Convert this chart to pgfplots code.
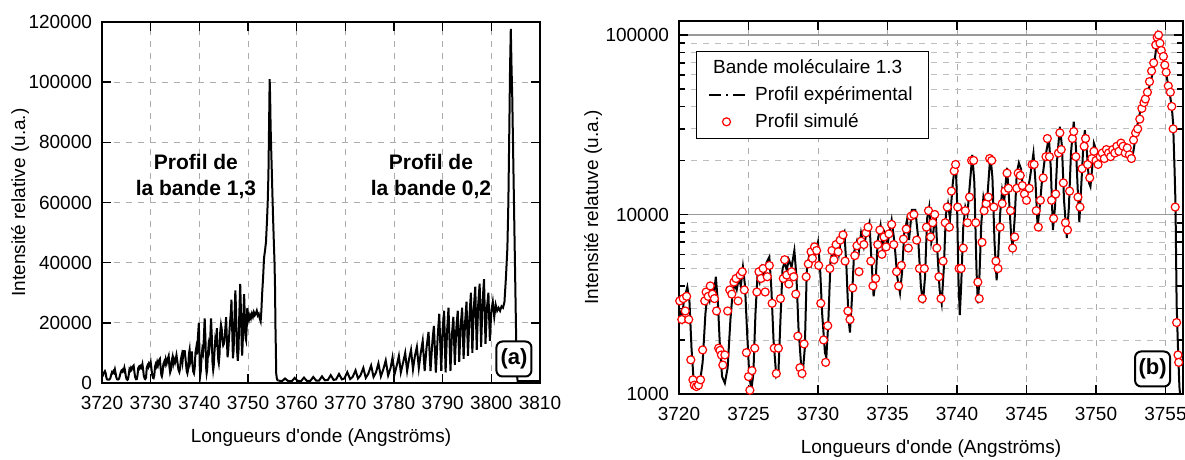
\documentclass[border=0pt]{standalone}
\usepackage{fontspec}
\setmainfont{Liberation Sans}
\usepackage{pgfplots}
\usepackage{pgfplotstable}
\pgfplotsset{compat=1.18}

% bande 1,3 (profil experimental)
\pgfplotstableread{
l I
3720.0 3000
3720.2 2600
3720.35 3300
3720.6 3950
3720.75 3300
3720.9 1800
3721.05 1200
3721.3 1100
3721.5 1150
3721.7 1500
3721.9 2800
3722.05 3600
3722.2 3300
3722.35 3900
3722.5 3500
3722.65 4500
3722.8 3200
3722.95 1800
3723.1 1250
3723.3 1150
3723.5 1400
3723.7 2600
3723.85 3600
3724.0 4100
3724.15 3800
3724.3 4400
3724.45 4000
3724.6 5100
3724.75 4000
3724.9 2200
3725.05 1300
3725.2 1050
3725.35 1300
3725.5 2800
3725.65 4600
3725.8 4200
3725.95 5000
3726.1 4500
3726.3 5400
3726.5 5800
3726.65 3800
3726.8 2000
3727.0 1250
3727.15 1300
3727.3 2600
3727.45 5000
3727.6 5400
3727.75 4900
3727.9 5600
3728.1 5100
3728.3 6300
3728.45 4500
3728.6 2300
3728.8 1400
3728.9 1300
3729.05 1800
3729.2 5100
3729.35 5800
3729.5 5300
3729.65 6400
3729.8 5900
3730.0 7000
3730.15 5000
3730.3 2800
3730.5 1700
3730.6 1600
3730.75 2600
3730.9 5500
3731.05 6300
3731.2 5600
3731.35 6900
3731.5 6000
3731.65 7300
3731.9 8000
3732.05 5000
3732.2 2600
3732.3 2200
3732.45 3500
3732.6 6200
3732.8 7100
3732.95 6300
3733.1 7900
3733.3 6600
3733.5 8000
3733.7 9000
3733.85 5500
3734.0 3500
3734.15 4300
3734.3 7200
3734.5 8700
3734.65 6500
3734.8 7800
3735.0 6800
3735.3 9300
3735.5 7000
3735.7 4500
3735.9 3650
3736.05 4800
3736.2 7800
3736.4 9300
3736.55 7200
3736.75 10600
3737.0 10600
3737.2 7500
3737.4 4000
3737.55 3200
3737.7 4500
3737.85 9500
3738.0 11000
3738.15 7000
3738.3 8000
3738.45 10500
3738.6 6000
3738.75 3800
3738.9 3200
3739.05 5000
3739.2 10000
3739.35 11500
3739.5 9500
3739.7 15000
3739.9 20000
3740.0 12000
3740.1 4500
3740.2 2750
3740.3 4000
3740.45 8500
3740.6 11000
3740.75 10000
3740.9 14000
3741.1 21500
3741.25 15000
3741.4 5000
3741.5 3200
3741.6 4200
3741.75 9000
3741.9 12500
3742.05 11000
3742.2 13000
3742.4 21500
3742.55 16000
3742.7 7000
3742.85 4300
3742.95 5500
3743.1 10000
3743.25 13700
3743.4 12000
3743.6 18200
3743.75 12000
3743.9 7500
3744.0 6600
3744.15 9500
3744.3 17000
3744.45 19400
3744.6 18000
3744.75 14000
3744.9 12500
3745.05 13000
3745.25 16000
3745.5 21900
3745.65 15000
3745.8 8550
3745.95 11000
3746.1 15000
3746.3 20000
3746.5 24000
3746.6 27700
3746.75 18000
3746.9 8200
3747.05 11000
3747.2 20000
3747.4 30800
3747.55 24000
3747.7 12000
3747.9 7400
3748.05 11000
3748.2 22000
3748.4 32900
3748.55 24000
3748.7 13000
3748.8 9100
3748.95 15000
3749.1 25000
3749.2 29500
3749.35 22000
3749.5 15000
3749.6 14300
3749.75 19000
3749.85 24900
3750.0 23000
3750.2 21000
3750.4 22500
3750.6 21500
3750.8 23000
3751.0 22000
3751.2 23500
3751.4 22500
3751.6 23000
3751.8 24000
3752.0 22500
3752.2 23000
3752.4 21500
3752.6 20500
3752.75 24000
3752.9 29500
3753.1 35000
3753.3 41700
3753.5 44000
3753.7 47000
3753.9 53800
3754.05 60000
3754.2 69500
3754.35 88000
3754.45 101000
3754.55 95000
3754.65 85000
3754.8 75700
3754.9 70000
3755.0 63700
3755.15 55000
3755.3 47300
3755.45 40000
3755.55 32000
3755.65 18000
3755.72 11500
3755.8 3200
3755.9 1800
3756.0 1100
3756.1 900
3756.26 800
}\bandtreize

% bande 0,2
\pgfplotstableread{
l I
3756.26 800
3757.0 600
3757.6 1500
3758.2 700
3759.0 600
3759.6 1700
3760.2 700
3760.9 600
3761.5 1800
3762.1 700
3762.8 700
3763.4 2000
3764.0 800
3764.6 800
3765.2 2200
3765.8 900
3766.4 1000
3767.0 2600
3767.6 1000
3768.1 1200
3768.7 3000
3769.3 1200
3769.8 1500
3770.4 3600
3771.0 1300
3771.5 2000
3772.1 4200
3772.6 1500
3773.1 2500
3773.7 5000
3774.2 1700
3774.7 3000
3775.3 5800
3775.8 2000
3776.3 3500
3776.8 6500
3777.3 2200
3777.8 4500
3778.3 7500
3778.8 2500
3779.3 5000
3779.7 8500
3780.1 2800
3780.6 6000
3781.0 9000
3781.4 3500
3781.9 7000
3782.3 10000
3782.7 4000
3783.1 8000
3783.5 11000
3783.9 4500
3784.3 9000
3784.7 12000
3785.1 5000
3785.5 10000
3785.9 14000
3786.3 4000
3786.7 12000
3787.1 17000
3787.5 4000
3787.9 14000
3788.2 19000
3788.6 3500
3789.0 16000
3789.3 23000
3789.7 4000
3790.0 18000
3790.3 24000
3790.6 3500
3790.9 17000
3791.2 25000
3791.6 4000
3791.9 16000
3792.2 22000
3792.5 6000
3792.8 18000
3793.1 24000
3793.4 7000
3793.7 19000
3794.0 25000
3794.3 8000
3794.6 20000
3794.9 27000
3795.2 9000
3795.5 22000
3795.8 30000
3796.1 10000
3796.4 25000
3796.7 32000
3797.0 11000
3797.3 26000
3797.6 33000
3797.9 12000
3798.2 27000
3798.5 34500
3798.8 13000
3799.1 25000
3799.4 30000
3799.7 14000
3800.0 24000
3800.3 27000
3800.6 22000
3800.9 26000
3801.2 24000
3801.5 25000
3801.8 24000
3802.1 25500
3802.4 25000
3802.7 27000
3803.0 35000
3803.3 45000
3803.5 60000
3803.7 85000
3803.85 105000
3804.0 117700
3804.15 105000
3804.3 95000
3804.5 75000
3804.7 55000
3804.9 35000
3805.1 15000
3805.25 3000
3805.4 700
3806.0 600
3810.0 600
}\bandzerodeux

% profil simule
\pgfplotstableread{
l I
3720.05 3300
3720.2 2600
3720.3 3400
3720.45 2900
3720.55 3500
3720.7 2600
3720.85 1550
3721.0 1200
3721.1 1120
3721.25 1100
3721.4 1120
3721.55 1200
3721.7 1760
3721.85 3300
3721.95 3700
3722.1 3500
3722.25 4000
3722.4 3600
3722.55 3400
3722.7 2900
3722.85 1800
3722.95 1750
3723.05 1650
3723.15 1450
3723.3 1650
3723.5 2900
3723.65 3800
3723.8 3600
3723.95 4200
3724.1 4400
3724.25 3300
3724.4 4600
3724.55 4800
3724.7 3800
3724.85 1700
3725.0 1250
3725.1 1050
3725.25 1350
3725.45 1800
3725.6 3700
3725.75 4800
3725.9 4400
3726.05 5000
3726.2 3700
3726.35 4500
3726.5 5200
3726.7 3200
3726.85 1800
3727.0 1300
3727.15 1800
3727.3 3400
3727.5 4400
3727.6 5600
3727.75 4600
3727.9 4100
3728.1 4800
3728.25 4500
3728.4 3600
3728.55 2100
3728.7 1400
3728.85 1300
3729.0 1900
3729.15 4500
3729.3 5300
3729.5 6200
3729.6 5700
3729.75 6600
3729.9 6300
3730.05 5200
3730.2 3200
3730.4 2000
3730.55 1500
3730.7 2400
3730.85 5000
3731.0 6300
3731.15 5600
3731.3 6800
3731.45 6200
3731.6 7200
3731.8 7700
3731.95 5500
3732.15 2900
3732.3 2600
3732.5 3900
3732.65 5900
3732.8 6700
3732.95 4800
3733.1 7100
3733.3 6800
3733.45 7900
3733.6 8500
3733.8 5500
3733.95 4000
3734.15 4400
3734.3 6800
3734.45 8200
3734.6 6000
3734.75 7500
3734.9 6600
3735.1 7800
3735.3 8800
3735.45 6800
3735.65 4800
3735.8 4000
3736.0 5200
3736.15 7300
3736.35 8300
3736.5 6500
3736.7 9800
3736.9 10000
3737.1 7200
3737.3 5000
3737.5 3400
3737.65 5000
3737.8 8500
3737.95 10500
3738.1 7500
3738.25 9000
3738.4 10000
3738.55 6500
3738.7 4500
3738.85 3400
3739.0 5500
3739.15 9000
3739.3 11000
3739.45 8500
3739.6 13500
3739.8 17500
3739.9 19000
3740.05 11000
3740.15 5000
3740.3 5000
3740.45 6500
3740.6 10500
3740.75 9000
3740.9 12500
3741.05 20000
3741.2 20000
3741.35 9000
3741.5 4200
3741.6 3400
3741.8 7000
3741.95 10500
3742.1 11500
3742.25 12500
3742.35 20500
3742.5 20000
3742.65 11000
3742.8 5500
3742.95 5000
3743.1 8500
3743.25 11500
3743.45 13500
3743.6 17000
3743.7 14000
3743.85 10500
3744.0 6500
3744.15 7500
3744.3 14000
3744.4 17000
3744.55 16500
3744.7 14500
3744.85 13000
3745.0 12000
3745.2 14000
3745.4 19000
3745.55 19000
3745.7 10500
3745.85 8500
3746.0 12000
3746.2 16000
3746.4 21000
3746.5 26500
3746.65 21000
3746.8 12000
3746.95 9500
3747.1 13000
3747.3 22000
3747.4 28500
3747.5 23000
3747.65 15000
3747.8 9000
3747.95 8200
3748.1 13500
3748.3 26500
3748.4 29000
3748.55 21000
3748.7 12500
3748.85 11000
3749.0 18000
3749.15 24000
3749.25 26500
3749.4 19000
3749.55 16000
3749.7 20500
3749.85 22500
3750.0 20000
3750.15 19000
3750.3 21000
3750.45 22000
3750.6 20500
3750.75 23000
3750.9 22000
3751.05 21000
3751.2 23000
3751.35 22000
3751.5 24000
3751.65 22500
3751.8 25000
3751.95 24000
3752.1 22000
3752.25 23500
3752.4 21500
3752.55 20500
3752.7 26000
3752.85 28500
3753.0 30000
3753.15 34000
3753.3 39000
3753.45 42000
3753.55 44000
3753.7 48000
3753.85 55000
3754.0 63000
3754.15 70000
3754.3 88000
3754.4 97000
3754.5 100000
3754.6 90000
3754.7 82000
3754.85 76000
3754.95 68000
3755.05 62000
3755.2 52000
3755.35 48000
3755.45 40000
3755.55 30000
3755.7 11000
3755.8 2500
3755.9 1650
3755.95 1500
}\simule

\begin{document}
\begin{tikzpicture}
\path[use as bounding box] (0,0) rectangle (592.5pt,230pt);
\pgfplotsset{
  every axis/.append style={
    scale only axis, anchor=south west,
    font=\fontsize{9.5}{11}\selectfont,
    axis line style={line width=1pt},
    tick style={black, line width=0.8pt},
    /pgf/number format/assume math mode=true,
    /pgf/number format/fixed,
    /pgf/number format/1000 sep={},
    scaled ticks=false,
    xticklabel style={yshift=-3pt},
    yticklabel style={xshift=-1.5pt},
    every axis x label/.style={at={(rel axis cs:0.5,0)}, yshift=-27.5pt, anchor=center},
    label style={font=\fontsize{9.5}{11}\selectfont},
  }
}

% (a)
\begin{axis}[
  at={(51pt,38.5pt)}, width=219pt, height=180.5pt,
  xmin=3720, xmax=3810, ymin=0, ymax=120000,
  xtick distance=10, ytick distance=20000,
  grid=major, major grid style={gray!65, dashed, line width=0.4pt},
  every axis y label/.style={at={(rel axis cs:0,0.5)}, xshift=-41pt, rotate=90, anchor=center},
  xlabel={Longueurs d\textquotesingle onde (Angströms)},
  ylabel={Intensité relative (u.a.)},
]
\addplot[black, line width=1pt] table {\bandtreize};
\addplot[black, line width=1pt] table {\bandzerodeux};
\node[font=\bfseries\fontsize{10.5}{13}\selectfont, align=center] at (axis cs:3739.3,68500) {Profil de\\la bande 1,3};
\node[font=\bfseries\fontsize{10.5}{13}\selectfont, align=center] at (axis cs:3787.6,68500) {Profil de\\la bande 0,2};
\node[draw, fill=white, rounded corners=3pt, line width=1pt, minimum size=17.5pt, inner sep=1pt,
  font=\bfseries\fontsize{11}{12}\selectfont] at (axis cs:3804.65,7980) {(a)};
\end{axis}

% (b)
\begin{axis}[
  at={(339.5pt,33pt)}, width=252pt, height=186.5pt,
  xmin=3720, xmax=3756.26, ymode=log, ymin=1000, ymax=119700,
  xtick distance=5,
  ytick={1000,10000,100000}, yticklabels={1000,10000,100000},
  grid=both, major grid style={gray!65, dashed, line width=0.4pt},
  minor grid style={gray!50, dashed, line width=0.4pt},
  extra y ticks={10000,100000}, extra y tick labels={},
  extra y tick style={major grid style={gray!80, solid, line width=0.6pt}},
  every axis y label/.style={at={(rel axis cs:0,0.5)}, xshift=-43pt, rotate=90, anchor=center},
  xlabel={Longueurs d\textquotesingle onde (Angströms)},
  ylabel={Intensité relatuve (u.a.)},
  legend style={at={(0.034,0.92)}, anchor=north west, draw=black, line width=0.5pt,
    font=\fontsize{9.5}{11}\selectfont, row sep=1pt, inner xsep=6pt, inner ysep=2pt},
  legend cell align=left,
]
\addlegendimage{empty legend}
\addlegendentry{\hspace*{-21pt}Bande moléculaire 1.3}
\addplot[black, line width=1pt,
  legend image code/.code={\draw[black, line width=0.8pt, dash pattern=on 6pt off 2.5pt on 1pt off 2.5pt] (0cm,0cm) -- (0.72cm,0cm);}]
  table {\bandtreize};
\addlegendentry{Profil expérimental}
\addplot[only marks, red, mark=*, mark size=2pt, mark options={fill=white, line width=0.6pt}]
  table {\simule};
\addlegendentry{Profil simulé}
\node[draw, fill=white, rounded corners=3pt, line width=1pt, minimum size=17.5pt, inner sep=1pt,
  font=\bfseries\fontsize{11}{12}\selectfont] at (axis cs:3754.07,1378) {(b)};
\end{axis}
\end{tikzpicture}
\end{document}
